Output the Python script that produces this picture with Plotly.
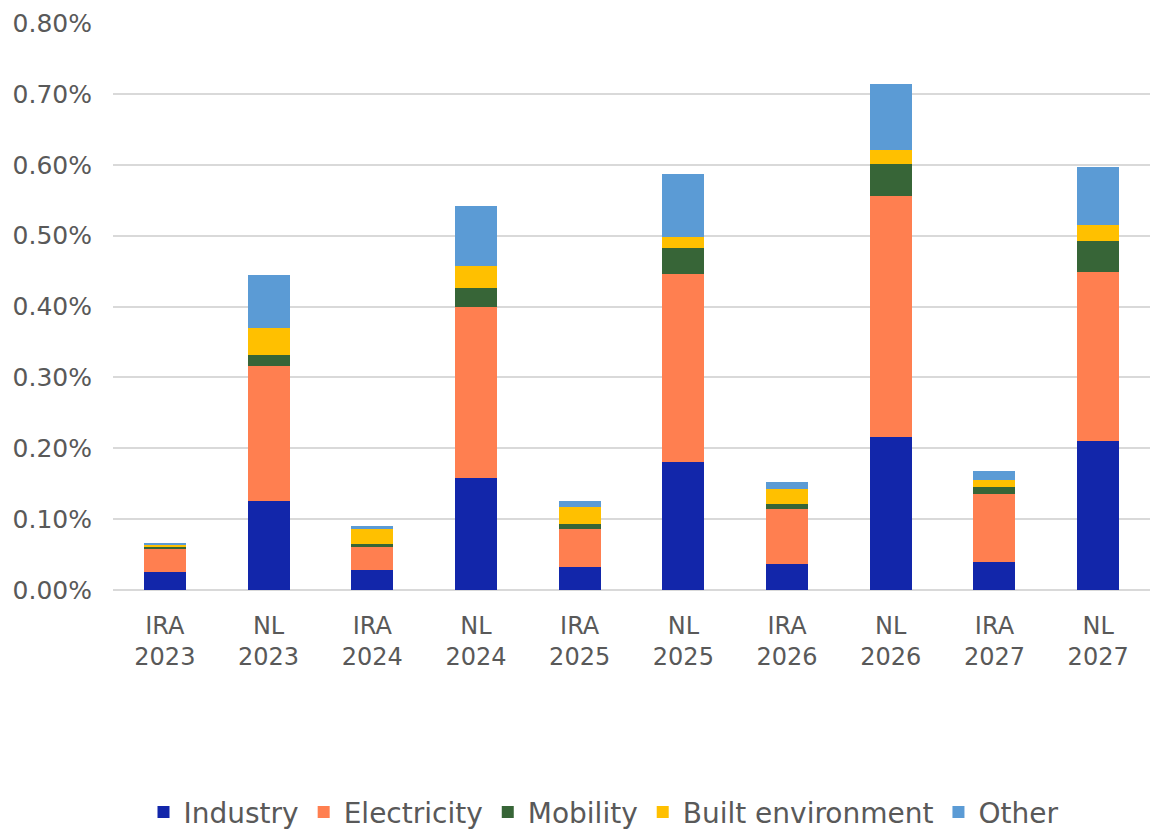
import plotly.graph_objects as go

categories = ["IRA<br>2023", "NL<br>2023", "IRA<br>2024", "NL<br>2024", "IRA<br>2025",
              "NL<br>2025", "IRA<br>2026", "NL<br>2026", "IRA<br>2027", "NL<br>2027"]

# values in percent
industry = [0.025, 0.125, 0.028, 0.1575, 0.033, 0.1805, 0.037, 0.2154, 0.0395, 0.2107]
electricity = [0.033, 0.1917, 0.032, 0.2415, 0.053, 0.2655, 0.077, 0.3408, 0.096, 0.2382]
mobility = [0.0025, 0.0149, 0.0047, 0.0273, 0.007, 0.0363, 0.0075, 0.0444, 0.0094, 0.0433]
built_environment = [0.004, 0.0387, 0.0217, 0.031, 0.0245, 0.0156, 0.021, 0.0197, 0.011, 0.0222]
other = [0.0015, 0.0735, 0.0043, 0.084, 0.0085, 0.0885, 0.0105, 0.0933, 0.012, 0.0819]

series = [
    ("Industry", industry, "#1226AA"),
    ("Electricity", electricity, "#FF7F50"),
    ("Mobility", mobility, "#376537"),
    ("Built environment", built_environment, "#FFC000"),
    ("Other", other, "#5B9BD5"),
]

y_ticks = [0, 0.1, 0.2, 0.3, 0.4, 0.5, 0.6, 0.7, 0.8]

fig = go.Figure()
for name, vals, color in series:
    fig.add_trace(go.Bar(x=categories, y=vals, name=name, marker=dict(color=color, line=dict(width=0))))

font_family = "DejaVu Sans, Verdana, sans-serif"
fig.update_layout(
    barmode="stack",
    bargap=0.595,
    width=1153, height=830,
    margin=dict(l=113, r=3, t=23, b=240, autoexpand=False),
    paper_bgcolor="white", plot_bgcolor="white",
    font=dict(family=font_family, size=24, color="#595959"),
    showlegend=True,
    legend=dict(orientation="h", x=0.473, xanchor="center", y=-0.392, yanchor="middle",
                font=dict(size=28, color="#595959"), traceorder="normal",
                itemsizing="constant"),
    xaxis=dict(showgrid=False, showline=False, ticks="", tickfont=dict(size=24, color="#595959"),
               ticklabelstandoff=19),
    yaxis=dict(range=[0, 0.8], tickvals=y_ticks, ticktext=[f"{v:.2f}%" for v in y_ticks],
               showgrid=True, gridcolor="#d9d9d9", gridwidth=1.5, zeroline=True,
               zerolinecolor="#d9d9d9", zerolinewidth=1.5, showline=False, ticks="",
               tickfont=dict(size=25, color="#595959"), ticklabelstandoff=20),
)

fig.write_html("out.html")
